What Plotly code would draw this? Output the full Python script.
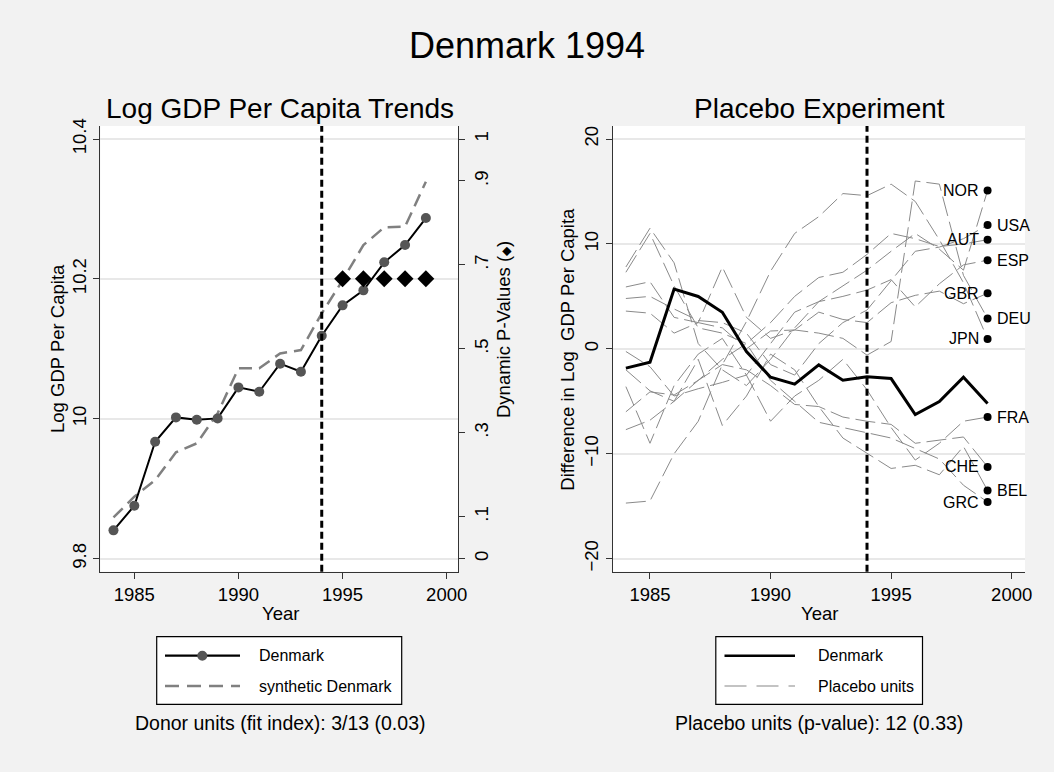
import plotly.graph_objects as go

# ---------------- data ----------------
years = list(range(1984, 2000))

denmark_gdp = [9.8405, 9.8757, 9.9672, 10.002, 9.9987, 10.0006, 10.0449, 10.0387,
               10.0788, 10.0673, 10.1188, 10.1622, 10.1836, 10.2237, 10.2484, 10.287]
synthetic_gdp = [9.859, 9.8886, 9.9124, 9.952, 9.9649, 10.0078, 10.0721, 10.0721,
                 10.0935, 10.0983, 10.1507, 10.198, 10.2484, 10.2737, 10.2747, 10.339]

pval_years = [1995, 1996, 1997, 1998, 1999]
pvals = [0.667, 0.667, 0.667, 0.667, 0.667]

denmark_gap = [-1.84, -1.27, 5.69, 4.99, 3.49, -0.25, -2.70, -3.37, -1.53, -2.99,
               -2.67, -2.83, -6.26, -5.02, -2.70, -5.21]

placebo_names = ["NOR", "USA", "AUT", "ESP", "GBR", "DEU", "JPN", "FRA", "CHE", "BEL", "GRC"]
placebo_NOR = [7.8, 11.5, 8.2, 0.5, -2.0, -3.5, -1.0, 2.0, 4.5, 6.0, 7.5, 9.3, 11.0, 9.5, 7.5, 15.1]
placebo_USA = [4.8, 5.0, 3.8, 2.7, 2.5, 1.5, -1.5, -2.5, 0.5, 2.5, 3.7, 6.5, 9.3, 9.7, 10.5, 11.8]
placebo_AUT = [7.3, 11.0, 6.0, 2.0, 1.5, 0.5, 2.5, 5.0, 6.8, 7.3, 9.0, 11.0, 10.5, 9.75, 10.0, 10.4]
placebo_ESP = [-0.25, -1.7, -4.5, -3.8, -3.2, -2.5, 0.5, 3.5, 4.5, 5.0, 5.6, 6.6, 4.0, 6.2, 8.0, 8.45]
placebo_GBR = [3.6, 3.4, 1.5, 2.5, 2.0, 0.0, 1.7, 1.8, 3.5, 2.8, 2.5, 4.4, 5.1, 5.5, 4.3, 5.3]
placebo_DEU = [5.9, 6.4, 3.0, 2.5, 7.8, 3.0, 1.0, 1.8, 1.5, 1.0, -0.6, 0.7, 16.0, 15.7, 7.0, 2.9]
placebo_JPN = [-14.7, -14.5, -10.0, -6.9, -1.5, 2.6, 7.4, 11.0, 12.6, 14.8, 14.6, 15.7, 14.05, 10.4, 6.3, 0.95]
placebo_FRA = [-3.6, -9.0, -3.5, -0.5, 1.0, -2.5, -6.9, -4.5, -3.0, -1.0, -3.9, -7.5, -10.6, -9.0, -6.9, -6.5]
placebo_CHE = [-6.0, -4.1, -4.4, -3.0, -1.5, -2.0, -3.5, -5.3, -5.5, -6.5, -6.9, -7.2, -9.0, -8.7, -8.4, -11.25]
placebo_BEL = [-7.7, -6.8, -5.0, -1.0, -7.3, -4.5, -0.5, -2.0, -5.5, -8.5, -9.95, -11.4, -11.1, -12.0, -9.3, -13.5]
placebo_GRC = [-2.0, -4.0, -5.0, -3.0, -1.0, 0.5, -3.0, -5.0, -7.0, -7.5, -8.0, -8.5, -9.5, -10.5, -13.0, -14.6]
placebo_series = [placebo_NOR, placebo_USA, placebo_AUT, placebo_ESP, placebo_GBR, placebo_DEU,
                  placebo_JPN, placebo_FRA, placebo_CHE, placebo_BEL, placebo_GRC]
label_side = ["left", "right", "left", "right", "left", "right", "left", "right", "left", "right", "left"]

treat_year = 1994
left_yticks = [9.8, 10.0, 10.2, 10.4]
left_yticktext = ["9.8", "10", "10.2", "10.4"]
p_ticks = [0, 0.1, 0.3, 0.5, 0.7, 0.9, 1]
p_ticktext = ["0", ".1", ".3", ".5", ".7", ".9", "1"]
right_yticks = [-20, -10, 0, 10, 20]
x_ticks = [1985, 1990, 1995, 2000]

# ---------------- geometry helpers ----------------
W, H = 1054, 772
FONT = "Liberation Sans, Arial, sans-serif"
BG = "#f2f2f2"
AX = "#333333"


def px(x):
    return x / W


def py(y):
    return 1 - y / H


L_X0, L_X1 = 100.3, 458.3
R_X0, R_X1 = 613.0, 1025.0
P_Y0, P_Y1 = 126.0, 571.7

fig = go.Figure()

# ---------------- left panel ----------------
fig.add_trace(go.Scatter(x=years, y=synthetic_gdp, mode="lines", xaxis="x", yaxis="y",
                         line=dict(color="#808080", width=2.5, dash="13px,7px"),
                         showlegend=False, hoverinfo="skip"))
fig.add_trace(go.Scatter(x=years, y=denmark_gdp, mode="lines+markers", xaxis="x", yaxis="y",
                         line=dict(color="black", width=2),
                         marker=dict(color="#555555", size=10),
                         showlegend=False))
fig.add_trace(go.Scatter(x=pval_years, y=pvals, mode="markers", xaxis="x", yaxis="y2",
                         marker=dict(symbol="diamond", color="black", size=13),
                         showlegend=False))

# ---------------- right panel ----------------
for s in placebo_series:
    fig.add_trace(go.Scatter(x=years, y=s, mode="lines", xaxis="x2", yaxis="y3",
                             line=dict(color="#8a8a8a", width=1, dash="20px,6px"),
                             showlegend=False, hoverinfo="skip"))
fig.add_trace(go.Scatter(x=years, y=denmark_gap, mode="lines", xaxis="x2", yaxis="y3",
                         line=dict(color="black", width=3), showlegend=False))
fig.add_trace(go.Scatter(x=[years[-1]] * len(placebo_series), y=[s[-1] for s in placebo_series],
                         mode="markers", xaxis="x2", yaxis="y3",
                         marker=dict(color="black", size=8), showlegend=False))

annotations = []
for name, s, side in zip(placebo_names, placebo_series, label_side):
    annotations.append(dict(x=years[-1], y=s[-1], xref="x2", yref="y3", text=name,
                            showarrow=False, font=dict(size=16, color="black", family=FONT),
                            xanchor="left" if side == "right" else "right",
                            xshift=7 if side == "right" else -7, yanchor="middle"))

# ---------------- axes ----------------
axis_common = dict(showline=True, linecolor=AX, linewidth=1.3, ticks="outside", ticklen=6,
                   tickcolor=AX, tickwidth=1.3, zeroline=False, automargin=False,
                   tickfont=dict(size=18.5, color="black", family=FONT))

fig.update_layout(
    xaxis=dict(domain=[px(L_X0), px(L_X1)], range=[1983.367, 2000.557], tickvals=x_ticks,
               showgrid=False, anchor="y", **axis_common),
    yaxis=dict(domain=[py(P_Y1), py(P_Y0)], range=[9.78141, 10.41859], tickvals=left_yticks,
               ticktext=left_yticktext, tickangle=-90, showgrid=True, gridcolor="#e8e8e8",
               gridwidth=2, anchor="x", **axis_common),
    yaxis2=dict(range=[-0.031, 1.031], tickvals=p_ticks, ticktext=p_ticktext, tickangle=-90,
                overlaying="y", side="right", anchor="x", showgrid=False, **axis_common),
    xaxis2=dict(domain=[px(R_X0), px(R_X1)], range=[1983.466, 2000.552], tickvals=x_ticks,
                showgrid=False, anchor="y3", **axis_common),
    yaxis3=dict(domain=[py(P_Y1), py(P_Y0)], range=[-21.24, 21.24], tickvals=right_yticks,
                tickangle=-90, showgrid=True, gridcolor="#e8e8e8", gridwidth=2, anchor="x2",
                **axis_common),
)

shapes = [
    # treatment lines
    dict(type="line", xref="x", yref="y domain", x0=treat_year, x1=treat_year, y0=0, y1=1,
         line=dict(color="black", width=3, dash="7px,4px"), layer="above"),
    dict(type="line", xref="x2", yref="y3 domain", x0=treat_year, x1=treat_year, y0=0, y1=1,
         line=dict(color="black", width=3, dash="7px,4px"), layer="above"),
    # zero line
    dict(type="line", xref="x2 domain", yref="y3", x0=0, x1=1, y0=0, y1=0,
         line=dict(color="black", width=1.3), layer="below"),
]

# ---------------- titles ----------------
def text(x, y, t, size, **kw):
    d = dict(x=px(x), y=py(y), xref="paper", yref="paper", text=t, showarrow=False,
             font=dict(size=size, color="black", family=FONT), xanchor="center", yanchor="middle")
    d.update(kw)
    return d


annotations += [
    text(527, 46, "Denmark 1994", 36),
    text(280, 108.5, "Log GDP Per Capita Trends", 28),
    text(819, 108.5, "Placebo Experiment", 28),
    text(57, 349, "Log GDP Per Capita", 18.5, textangle=-90),
    text(503, 330, "Dynamic P-Values (<span style='font-size:12px'>◆</span>)", 18.5,
         textangle=-90),
    text(566.7, 349, "Difference in Log  GDP Per Capita", 18.5, textangle=-90),
    text(280, 613, "Year", 18.5),
    text(819, 613, "Year", 18.5),
    text(280, 723.3, "Donor units (fit index): 3/13 (0.03)", 19.5),
    text(819, 723.3, "Placebo units (p-value): 12 (0.33)", 19.5),
]

# ---------------- legends (drawn) ----------------
ROW1, ROW2 = 655.7, 686.0
# left legend
shapes.append(dict(type="rect", xref="paper", yref="paper", x0=px(156.7), x1=px(401.7),
                   y0=py(704.3), y1=py(636.7), line=dict(color="black", width=1.2),
                   fillcolor="white", layer="above"))
shapes.append(dict(type="line", xref="paper", yref="paper", x0=px(165), x1=px(240),
                   y0=py(ROW1), y1=py(ROW1), line=dict(color="black", width=2.2), layer="above"))
shapes.append(dict(type="circle", xref="paper", yref="paper", x0=px(197.3), x1=px(207.3),
                   y0=py(ROW1 + 5), y1=py(ROW1 - 5), line=dict(color="#555555", width=0),
                   fillcolor="#555555", layer="above"))
shapes.append(dict(type="line", xref="paper", yref="paper", x0=px(165), x1=px(240),
                   y0=py(ROW2), y1=py(ROW2), line=dict(color="#808080", width=2.5, dash="14px,8px"),
                   layer="above"))
annotations.append(text(256.7, ROW1, "Denmark", 16, xanchor="left"))
annotations.append(text(256.7, ROW2, "synthetic Denmark", 16, xanchor="left"))
# right legend
shapes.append(dict(type="rect", xref="paper", yref="paper", x0=px(715.8), x1=px(922.5),
                   y0=py(704.3), y1=py(636.7), line=dict(color="black", width=1.2),
                   fillcolor="white", layer="above"))
shapes.append(dict(type="line", xref="paper", yref="paper", x0=px(724.5), x1=px(795),
                   y0=py(ROW1), y1=py(ROW1), line=dict(color="black", width=2.5), layer="above"))
shapes.append(dict(type="line", xref="paper", yref="paper", x0=px(724.5), x1=px(795),
                   y0=py(ROW2), y1=py(ROW2), line=dict(color="#b0b0b0", width=1.3, dash="22px,10px"),
                   layer="above"))
annotations.append(text(816.4, ROW1, "Denmark", 16, xanchor="left"))
annotations.append(text(816.4, ROW2, "Placebo units", 16, xanchor="left"))

fig.update_layout(
    width=W, height=H, margin=dict(l=0, r=0, t=0, b=0),
    paper_bgcolor=BG, plot_bgcolor="white",
    font=dict(family=FONT, color="black"),
    showlegend=False, shapes=shapes, annotations=annotations,
)

fig.write_html(
    "out.html",
    config={"displayModeBar": False},
    post_script="document.body.style.margin='0';document.body.style.padding='0';"
                "document.body.style.overflow='hidden';document.body.style.background='#f2f2f2';",
)
